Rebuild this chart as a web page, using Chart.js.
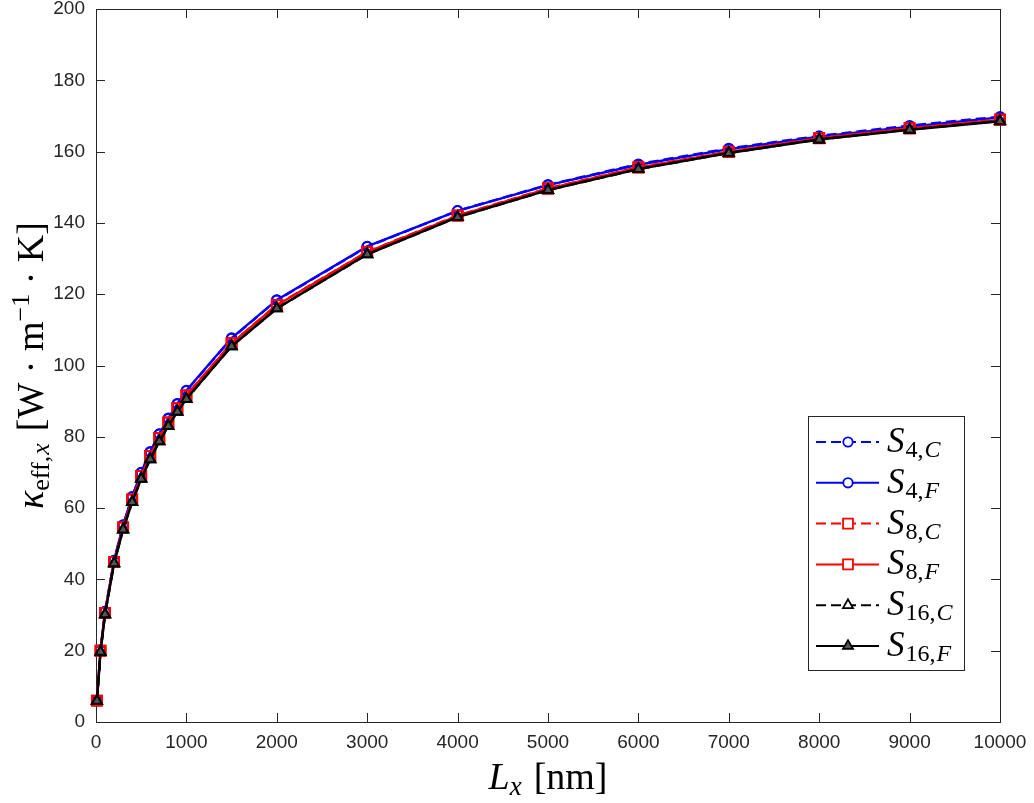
<!DOCTYPE html>
<html>
<head>
<meta charset="utf-8">
<script src="https://cdn.jsdelivr.net/npm/chart.js@4.4.1/dist/chart.umd.min.js"></script>
<style>
html,body{margin:0;padding:0;background:#fff;}
canvas{display:block;}
</style>
</head>
<body>
<canvas id="c" width="1034" height="803"></canvas>
<script>
// ---- data ----
const lengthsNm = [10, 50, 100, 200, 300, 400, 500, 600, 700, 800, 900, 1000, 1500, 2000, 3000, 4000, 5000, 6000, 7000, 8000, 9000, 10000];
const s4C  = [6.0, 20.2, 31.0, 45.3, 55.2, 63.1, 69.9, 75.7, 80.7, 85.1, 89.2, 92.9, 107.6, 118.3, 133.3, 143.4, 150.7, 156.5, 160.9, 164.4, 167.3, 169.8];
const s4F  = [6.0, 20.2, 31.0, 45.3, 55.3, 63.2, 70.0, 75.8, 80.8, 85.2, 89.3, 93.0, 107.7, 118.4, 133.4, 143.4, 150.6, 156.3, 160.7, 164.2, 167.0, 169.6];
const s8C  = [6.0, 20.0, 30.6, 44.9, 54.6, 62.4, 69.0, 74.6, 79.7, 84.0, 88.0, 91.6, 106.3, 117.0, 131.9, 142.1, 149.7, 155.6, 160.0, 163.8, 166.6, 169.0];
const s8F  = [6.0, 20.0, 30.6, 44.9, 54.6, 62.4, 69.0, 74.6, 79.7, 84.0, 88.0, 91.6, 106.2, 116.9, 131.8, 142.0, 149.6, 155.5, 159.9, 163.7, 166.5, 168.9];
const s16C = [5.9, 19.7, 30.2, 44.5, 54.0, 61.7, 68.2, 73.7, 78.7, 83.0, 87.0, 90.6, 105.4, 116.0, 131.2, 141.6, 149.2, 155.1, 159.6, 163.4, 166.2, 168.6];
const s16F = [5.9, 19.7, 30.2, 44.5, 54.0, 61.7, 68.2, 73.7, 78.7, 83.0, 87.0, 90.6, 105.4, 116.0, 131.2, 141.6, 149.2, 155.1, 159.6, 163.4, 166.1, 168.5];
const seriesSubs = [['4','C'], ['4','F'], ['8','C'], ['8','F'], ['16','C'], ['16','F']];
const xTickStep = 1000, xMin = 0, xMax = 10000;
const yTickStep = 20, yMin = 0, yMax = 200;

// ---- styles ----
const BLUE = '#0000ff', RED = '#ff0000', BLACK = '#000000';
const DASH = [10, 5];
const styles = [
  {c: BLUE,  dash: DASH, pt: 'circle',   r: 4.7, fill: 'rgba(255,255,255,0)'},
  {c: BLUE,  dash: [],   pt: 'circle',   r: 4.7, fill: 'rgba(255,255,255,0)'},
  {c: RED,   dash: DASH, pt: 'rect',     r: 7,   fill: 'rgba(255,255,255,0)'},
  {c: RED,   dash: [],   pt: 'rect',     r: 7,   fill: 'rgba(255,255,255,0)'},
  {c: BLACK, dash: DASH, pt: 'triangle', r: 5.8, fill: 'rgba(255,255,255,0)'},
  {c: BLACK, dash: [],   pt: 'triangle', r: 5.8, fill: '#555555'}
];
const allSeries = [s4C, s4F, s8C, s8F, s16C, s16F];

const datasets = allSeries.map((vals, i) => ({
  label: 'S' + seriesSubs[i].join(','),
  data: lengthsNm.map((x, k) => ({x: x, y: vals[k]})),
  order: allSeries.length - 1 - i,
  borderColor: styles[i].c,
  borderWidth: 2.4,
  borderDash: styles[i].dash,
  pointStyle: styles[i].pt,
  pointRadius: styles[i].r,
  pointBorderWidth: 2,
  pointBorderColor: styles[i].c,
  pointBackgroundColor: styles[i].fill,
  tension: 0,
  fill: false,
  clip: false
}));

const AX = '#262626';
const SERIF = '"Liberation Serif", "DejaVu Serif", serif';

function drawRich(ctx, runs, cx, baseY) {
  let w = 0;
  runs.forEach(r => {
    ctx.font = (r.it ? 'italic ' : '') + r.size + 'px ' + SERIF;
    r.w = ctx.measureText(r.t).width;
    w += r.w + (r.gap || 0);
  });
  let x = cx - w / 2;
  runs.forEach(r => {
    ctx.font = (r.it ? 'italic ' : '') + r.size + 'px ' + SERIF;
    ctx.fillText(r.t, x, baseY + (r.dy || 0));
    x += r.w + (r.gap || 0);
  });
  return w;
}
function drawRichLeft(ctx, runs, x, baseY) {
  runs.forEach(r => {
    ctx.font = (r.it ? 'italic ' : '') + r.size + 'px ' + SERIF;
    ctx.fillText(r.t, x, baseY + (r.dy || 0));
    x += ctx.measureText(r.t).width + (r.gap || 0);
  });
}

function drawMarker(ctx, st, x, y) {
  ctx.save();
  ctx.strokeStyle = st.c;
  ctx.lineWidth = 1.8;
  ctx.setLineDash([]);
  ctx.fillStyle = st.fill === '#555555' ? '#555555' : '#ffffff';
  Chart.helpers.drawPoint(ctx, {pointStyle: st.pt, radius: st.r, rotation: 0, borderWidth: 1.8}, x, y);
  ctx.restore();
}

const framePlugin = {
  id: 'frame',
  beforeDatasetsDraw(chart) {
    const ctx = chart.ctx, a = chart.chartArea;
    const xs = chart.scales.x, ys = chart.scales.y;
    ctx.save();
    ctx.strokeStyle = AX;
    ctx.lineWidth = 1;
    ctx.setLineDash([]);
    ctx.strokeRect(Math.round(a.left) + 0.5, Math.round(a.top) + 0.5, Math.round(a.right - a.left), Math.round(a.bottom - a.top));
    const TL = 9;
    ctx.beginPath();
    for (let v = xMin; v <= xMax; v += xTickStep) {
      const px = Math.round(xs.getPixelForValue(v)) + 0.5;
      ctx.moveTo(px, a.bottom); ctx.lineTo(px, a.bottom - TL);
      ctx.moveTo(px, a.top); ctx.lineTo(px, a.top + TL);
    }
    for (let v = yMin; v <= yMax; v += yTickStep) {
      const py = Math.round(ys.getPixelForValue(v)) + 0.5;
      ctx.moveTo(a.left, py); ctx.lineTo(a.left + TL, py);
      ctx.moveTo(a.right, py); ctx.lineTo(a.right - TL, py);
    }
    ctx.stroke();
    ctx.restore();
  },
  afterDraw(chart) {
    const ctx = chart.ctx, a = chart.chartArea;
    ctx.save();
    ctx.fillStyle = '#000';
    ctx.textBaseline = 'alphabetic';
    ctx.textAlign = 'left';
    // x label
    const cx = (a.left + a.right) / 2;
    drawRich(ctx, [
      {t: 'L', it: true, size: 38},
      {t: 'x', it: true, size: 27, dy: 6, gap: 12},
      {t: '[nm]', it: false, size: 38}
    ], cx, 789);
    // y label (rotated)
    ctx.save();
    ctx.translate(43, (a.top + a.bottom) / 2);
    ctx.rotate(-Math.PI / 2);
    drawRich(ctx, [
      {t: 'κ', it: true, size: 38},
      {t: 'eff,', it: false, size: 26, dy: 6, gap: 1},
      {t: 'x', it: true, size: 26, dy: 6, gap: 12},
      {t: '[W · m', it: false, size: 38},
      {t: '−1', it: false, size: 26, dy: -14},
      {t: ' · K]', it: false, size: 38}
    ], 0, 0);
    ctx.restore();

    // legend
    const L = 808, T = 416, W = 156, H = 254;
    ctx.fillStyle = '#fff';
    ctx.fillRect(L, T, W, H);
    ctx.strokeStyle = AX;
    ctx.lineWidth = 1;
    ctx.strokeRect(L + 0.5, T + 0.5, W, H);
    for (let i = 0; i < 6; i++) {
      const y = 442 + i * 40.8;
      const st = styles[i];
      ctx.save();
      ctx.strokeStyle = st.c;
      ctx.lineWidth = 2;
      ctx.setLineDash(st.dash);
      ctx.beginPath();
      ctx.moveTo(816, y); ctx.lineTo(879, y);
      ctx.stroke();
      ctx.restore();
      drawMarker(ctx, st, 848, y);
      ctx.fillStyle = '#000';
      drawRichLeft(ctx, [
        {t: 'S', it: true, size: 35, gap: 1},
        {t: seriesSubs[i][0], it: false, size: 24, dy: 5},
        {t: ',', it: false, size: 24, dy: 5, gap: 1},
        {t: seriesSubs[i][1], it: true, size: 24, dy: 5}
      ], 887, y + 10);
    }
    ctx.restore();
  }
};

new Chart(document.getElementById('c'), {
  type: 'line',
  data: {datasets: datasets},
  options: {
    responsive: false,
    devicePixelRatio: 1,
    animation: false,
    layout: {padding: {left: 0, top: 9, right: 34, bottom: 0}},
    plugins: {legend: {display: false}, tooltip: {enabled: false}},
    scales: {
      x: {
        type: 'linear', min: xMin, max: xMax,
        grid: {display: false, drawTicks: false},
        border: {display: false},
        ticks: {stepSize: xTickStep, padding: 9, color: AX, maxRotation: 0,
                font: {family: '"Liberation Sans", Arial, sans-serif', size: 19},
                callback: v => String(v)},
        afterFit: s => { s.height = 81; s.paddingLeft = 0; s.paddingRight = 0; }
      },
      y: {
        type: 'linear', min: yMin, max: yMax,
        grid: {display: false, drawTicks: false},
        border: {display: false},
        ticks: {stepSize: yTickStep, padding: 11, color: AX,
                font: {family: '"Liberation Sans", Arial, sans-serif', size: 19},
                callback: v => String(v)},
        afterFit: s => { s.width = 96; s.paddingTop = 0; s.paddingBottom = 0; }
      }
    }
  },
  plugins: [framePlugin]
});
</script>
</body>
</html>
